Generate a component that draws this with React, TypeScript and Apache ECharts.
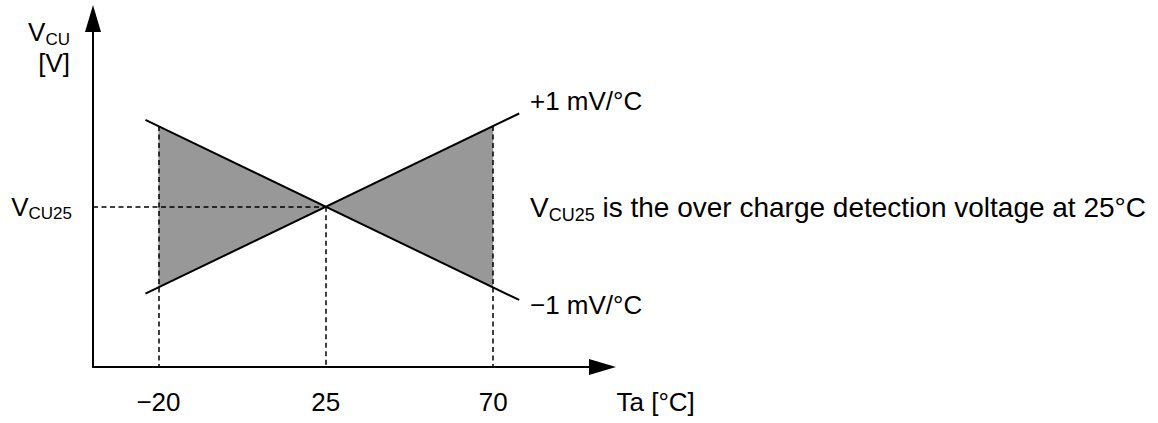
import React, { useEffect, useRef } from 'react';
import * as echarts from 'echarts';

// ---- data (temperature in °C, voltage as deviation from VCU25 in mV) ----
const tempTicks = [-20, 25, 70];
const tempTickLabels = ['−20', '25', '70'];
const lineTemps = [-23.5, 77];
const plusSlope = [-48.5, 52]; // +1 mV/°C
const minusSlope = [48.5, -52]; // −1 mV/°C
const bandTemps = [-20, 25, 70];
const bandHigh = [45, 0, 45];
const bandLow = [-45, 0, -45];
const refVoltage = [0];
const refLabelMain = ['V'];
const refLabelSub = ['CU25'];
const xRange = [-37.6, 99.4];
const yRange = [-89.4, 105];

const FONT = '"Liberation Sans", Arial, Helvetica, sans-serif';

const rich = {
  v: { fontSize: 26, lineHeight: 31, fontFamily: FONT, color: '#000', verticalAlign: 'middle' },
  s: { fontSize: 17, lineHeight: 15, fontFamily: FONT, color: '#000', verticalAlign: 'bottom' },
};

const richLarge = {
  v: { fontSize: 28, lineHeight: 33, fontFamily: FONT, color: '#000', verticalAlign: 'middle' },
  s: { fontSize: 18, lineHeight: 16, fontFamily: FONT, color: '#000', verticalAlign: 'bottom' },
};

const guideData: any[] = [
  ...bandTemps.map((t, i) => [{ coord: [t, bandHigh[i]] }, { coord: [t, yRange[0]] }]),
  [{ coord: [xRange[0], refVoltage[0]] }, { coord: [bandTemps[1], refVoltage[0]] }],
];

const option: any = {
  animation: false,
  backgroundColor: '#ffffff',
  grid: { left: 93, top: 18.5, right: 555.5, bottom: 56, containLabel: false, outerBoundsMode: 'none' },
  xAxis: {
    type: 'value',
    min: xRange[0],
    max: xRange[1],
    name: 'Ta [°C]',
    nameLocation: 'end',
    nameGap: 14,
    nameTextStyle: {
      fontFamily: FONT, fontSize: 26, color: '#000',
      align: 'left', verticalAlign: 'top', padding: [22, 0, 0, 0],
    },
    axisLine: {
      show: true, onZero: false,
      symbol: ['none', 'triangle'], symbolSize: [16, 27],
      lineStyle: { color: '#000', width: 2 },
    },
    axisTick: { show: false },
    splitLine: { show: false },
    axisLabel: {
      customValues: tempTicks,
      formatter: (v: number) => {
        const i = tempTicks.indexOf(v);
        return i >= 0 ? tempTickLabels[i] : '';
      },
      fontFamily: FONT, fontSize: 26, color: '#000', margin: 22,
    },
  },
  yAxis: {
    type: 'value',
    min: yRange[0],
    max: yRange[1],
    name: '{v|V}{s|CU}\n{v|[V]}',
    nameLocation: 'end',
    nameGap: 2,
    nameTextStyle: {
      fontFamily: FONT, fontSize: 26, color: '#000',
      align: 'right', verticalAlign: 'top', padding: [0, 23, 0, 0],
      rich,
    },
    axisLine: {
      show: true, onZero: false,
      symbol: ['none', 'triangle'], symbolSize: [16, 27],
      lineStyle: { color: '#000', width: 2 },
    },
    axisTick: { show: false },
    splitLine: { show: false },
    axisLabel: {
      customValues: refVoltage,
      formatter: (v: number) => {
        const i = refVoltage.indexOf(v);
        return i >= 0 ? `{v|${refLabelMain[i]}}{s|${refLabelSub[i]}}` : '';
      },
      margin: 21,
      rich,
    },
  },
  graphic: [
    {
      type: 'text', x: 530, y: 101, silent: true,
      style: { text: '+1 mV/°C', fontFamily: FONT, fontSize: 26, fill: '#000', align: 'left', verticalAlign: 'middle' },
    },
    {
      type: 'text', x: 530, y: 305, silent: true,
      style: { text: '−1 mV/°C', fontFamily: FONT, fontSize: 26, fill: '#000', align: 'left', verticalAlign: 'middle' },
    },
    {
      type: 'text', x: 530, y: 207, silent: true,
      style: {
        text: '{v|V}{s|CU25}{v| is the over charge detection voltage at 25°C}',
        fontFamily: FONT, fontSize: 28, fill: '#000', align: 'left', verticalAlign: 'middle',
        rich: richLarge,
      },
    },
  ],
  series: [
    {
      type: 'custom',
      name: 'band',
      silent: true,
      z: 1,
      data: bandTemps.map((t, i) => [t, bandLow[i], bandHigh[i]]),
      encode: { x: 0, y: [1, 2] },
      renderItem: (params: any, api: any) => {
        const i = params.dataIndex;
        if (i >= bandTemps.length - 1) return { type: 'group', children: [] };
        const pts = [
          api.coord([bandTemps[i], bandLow[i]]),
          api.coord([bandTemps[i], bandHigh[i]]),
          api.coord([bandTemps[i + 1], bandHigh[i + 1]]),
          api.coord([bandTemps[i + 1], bandLow[i + 1]]),
        ];
        return { type: 'polygon', shape: { points: pts }, style: { fill: '#989898', stroke: null } };
      },
    },
    {
      type: 'line',
      name: '+1 mV/°C',
      z: 3,
      silent: true,
      data: lineTemps.map((t, i) => [t, plusSlope[i]]),
      symbol: 'none',
      lineStyle: { color: '#000', width: 2 },
      markLine: {
        silent: true,
        symbol: ['none', 'none'],
        label: { show: false },
        lineStyle: { color: '#000', width: 1.5, type: [5, 3.5] },
        data: guideData,
      },
    },
    {
      type: 'line',
      name: '−1 mV/°C',
      z: 3,
      silent: true,
      data: lineTemps.map((t, i) => [t, minusSlope[i]]),
      symbol: 'none',
      lineStyle: { color: '#000', width: 2 },
    },
  ],
};

export default function App() {
  const ref = useRef<HTMLDivElement>(null);
  useEffect(() => {
    if (!ref.current) return;
    const chart = echarts.init(ref.current, null, { renderer: 'svg' });
    chart.setOption(option);
    return () => chart.dispose();
  }, []);
  return (
    <div
      ref={ref}
      style={{ position: 'absolute', left: 0, top: 0, width: 1158, height: 423, background: '#fff' }}
    />
  );
}
